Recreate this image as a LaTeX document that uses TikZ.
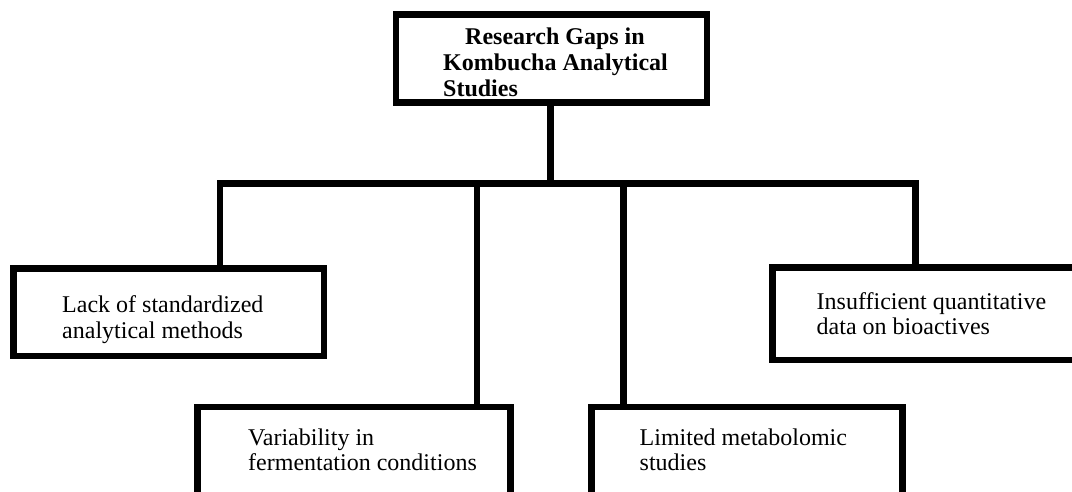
\documentclass[tikz,border=0pt]{standalone}
\usepackage{fontspec}
\setmainfont{Liberation Serif}
\usepackage{tikz}
\usetikzlibrary{positioning}

\begin{document}
\begin{tikzpicture}[x=1pt,y=-1pt,
  box/.style={draw,line width=6.5pt,inner sep=0pt,minimum width=311pt,minimum height=88pt},
  txt/.style={anchor=base west,inner sep=0pt,align=left,font=\fontsize{24}{25.5}\selectfont},
  link/.style={line width=6.5pt}]
\clip (0,0) rectangle (1072,492);
\fill[white] (0,0) rectangle (1072,492);
\node[box] (gaps) at (551.5,58.75) {};
\node[box,minimum width=310.5pt,minimum height=87.5pt] (lack) at (168.75,312.25) {};
\node[box,minimum width=313pt,minimum height=93pt] (vari) at (354,453.5) {};
\node[box,minimum width=311pt,minimum height=93pt] (limit) at (747,453.5) {};
\node[box,minimum width=312.5pt,minimum height=92.5pt] (insuf) at (928.75,313.75) {};
% text, anchored on the last line
\node[txt,font=\fontsize{24}{26}\selectfont\bfseries] (gaps-t) at (443,97) {\hspace*{22pt}Research Gaps in\\Kombucha Analytical\\Studies};
\node[txt] (lack-t) at (62,338) {Lack of standardized\\analytical methods};
\node[txt] (vari-t) at (248,470.5) {Variability in\\fermentation conditions};
\node[txt] (limit-t) at (639.5,470.5) {Limited metabolomic\\studies};
\node[txt] (insuf-t) at (816.5,334.5) {Insufficient quantitative\\data on bioactives};
\coordinate (hub) at (550.5,183.5);
\coordinate (d1) at (220,183.5);
\coordinate (d2) at (477,183.5);
\coordinate (d3) at (623.5,183.5);
\coordinate (d4) at (915.5,183.5);
\draw[link] (gaps.south -| hub) -- (hub);
\draw[link] (d1 |- lack.north) -- (d1) -- (d4) -- (d4 |- insuf.north);
\draw[link] (d2) -- (d2 |- vari.north);
\draw[link] (d3) -- (d3 |- limit.north);
\end{tikzpicture}
\end{document}
